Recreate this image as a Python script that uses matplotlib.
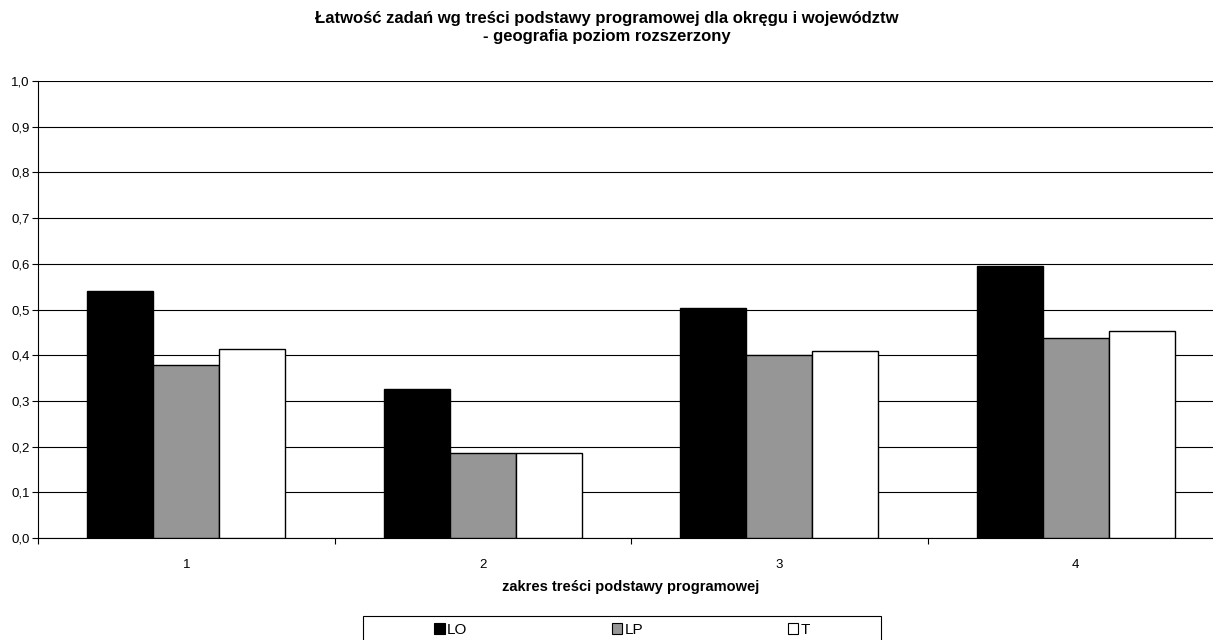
import matplotlib
matplotlib.use("Agg")
import matplotlib.pyplot as plt
import numpy as np
from matplotlib.patches import Patch, Rectangle
from matplotlib.ticker import FixedLocator, FuncFormatter

plt.rcParams['font.family'] = ['Liberation Sans', 'DejaVu Sans']

categories = ['1', '2', '3', '4']
series_names = ['LO', 'LP', 'T']
LO = [0.541, 0.327, 0.503, 0.595]
LP = [0.379, 0.187, 0.400, 0.437]
T = [0.414, 0.186, 0.409, 0.452]
colors = ['#000000', '#969696', '#ffffff']
title = 'Łatwość zadań wg treści podstawy programowej dla okręgu i województw\n- geografia poziom rozszerzony'
xlabel = 'zakres treści podstawy programowej'

W, H = 1213, 640
fig = plt.figure(figsize=(W / 100, H / 100), dpi=100)
left, right, top, bottom = 38, 1224, 81, 538
ax = fig.add_axes([left / W, (H - bottom) / H, (right - left) / W, (bottom - top) / H])

x = np.arange(len(categories))
w = 1 / 4.5
for i, (vals, c, name) in enumerate(zip([LO, LP, T], colors, series_names)):
    ax.bar(x + (i - 1) * w, vals, width=w, color=c, edgecolor='black', linewidth=1.0,
           label=name, zorder=3)

ax.set_xlim(-0.5, len(categories) - 0.5)
ax.set_ylim(0, 1.0)
ax.set_yticks(np.arange(0, 1.01, 0.1))
ax.yaxis.set_major_formatter(FuncFormatter(lambda v, p: f"{v:.1f}".replace('.', ',')))
ax.grid(axis='y', color='black', linewidth=0.8, zorder=0)
ax.set_axisbelow(True)

ax.set_xticks(x)
ax.set_xticklabels(categories)
ax.xaxis.set_minor_locator(FixedLocator(np.arange(-0.5, len(categories), 1.0)))
ax.tick_params(axis='x', which='major', length=0, pad=15, labelsize=9.5)
ax.tick_params(axis='x', which='minor', length=4, width=0.8, direction='out')
ax.tick_params(axis='y', length=4, width=0.8, direction='out', pad=2, labelsize=9.5)

for s in ['top', 'right']:
    ax.spines[s].set_visible(False)
ax.spines['left'].set_linewidth(0.8)
ax.spines['bottom'].set_linewidth(0.8)

fig.text(0.5, 1 - 27.5 / H, title, ha='center', va='center', fontsize=12, fontweight='bold',
         linespacing=1.22)
fig.text((left + right) / 2 / W, 1 - 587 / H, xlabel, ha='center', va='center',
         fontsize=10.5, fontweight='bold')

# legend frame (wider than the entries, as in the reference)
fig.patches.append(Rectangle((363 / W, 1 - 648 / H), (881 - 363) / W, (648 - 615.5) / H,
                             transform=fig.transFigure, facecolor='white',
                             edgecolor='black', linewidth=0.8, zorder=1))
handles = [Patch(facecolor=c, edgecolor='black', linewidth=0.8) for c in colors]
leg = fig.legend(handles, series_names, loc='center', ncol=3,
                 bbox_to_anchor=(622 / W, 1 - 630 / H), frameon=False,
                 fontsize=11, handlelength=0.7, handleheight=0.7,
                 handletextpad=0.15, columnspacing=9.44, borderpad=0, borderaxespad=0)
leg.set_zorder(2)

fig.savefig('out.png', dpi=100)
